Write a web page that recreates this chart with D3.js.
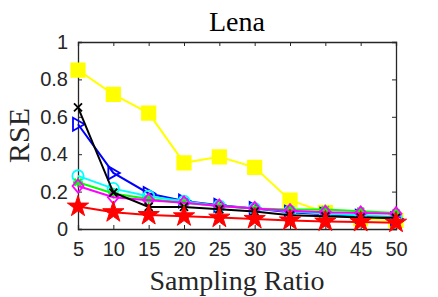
<!DOCTYPE html>
<html>
<head>
<meta charset="utf-8">
<script src="https://cdn.jsdelivr.net/npm/d3@7"></script>
<style>
  body { margin: 0; background: #fff; }
  svg { display: block; }
</style>
</head>
<body>
<div id="chart"></div>
<script>
var svgWidth = 438;
var svgHeight = 297;

var margin = { top: 42, right: 42, bottom: 68, left: 78 };
var width = svgWidth - margin.left - margin.right;
var height = svgHeight - margin.top - margin.bottom;

// data
var ratios = [5, 10, 15, 20, 25, 30, 35, 40, 45, 50];
var yTicks = [0, 0.2, 0.4, 0.6, 0.8, 1];
var yellowVals = [0.85, 0.72, 0.62, 0.354, 0.386, 0.33, 0.154, 0.088, 0.055, 0.046];
var blueVals = [0.56, 0.30, 0.19, 0.15, 0.127, 0.11, 0.09, 0.079, 0.068, 0.055];
var cyanVals = [0.284, 0.216, 0.175, 0.148, 0.123, 0.109, 0.095, 0.082, 0.073, 0.064];
var greenVals = [0.25, 0.19, 0.16, 0.14, 0.123, 0.109, 0.104, 0.104, 0.095, 0.086];
var magentaVals = [0.23, 0.17, 0.154, 0.14, 0.123, 0.11, 0.098, 0.089, 0.086, 0.082];
var blackVals = [0.65, 0.195, 0.118, 0.118, 0.105, 0.093, 0.073, 0.068, 0.062, 0.06];
var redVals = [0.12, 0.09, 0.075, 0.068, 0.061, 0.054, 0.046, 0.04, 0.038, 0.034];

var series = [
  { color: "#ffff00", marker: "square", values: yellowVals },
  { color: "#0000ff", marker: "triangle", values: blueVals },
  { color: "#00ffff", marker: "circle", values: cyanVals },
  { color: "#00ff00", marker: "asterisk", values: greenVals },
  { color: "#ff00ff", marker: "diamond", values: magentaVals },
  { color: "#000000", marker: "cross", values: blackVals },
  { color: "#ff0000", marker: "star", values: redVals }
];

var svg = d3.select("#chart")
  .append("svg")
  .attr("width", svgWidth)
  .attr("height", svgHeight);

var chartGroup = svg.append("g")
  .attr("transform", `translate(${margin.left}, ${margin.top})`);

var xScale = d3.scaleLinear().domain([5, 50]).range([0, width]);
var yScale = d3.scaleLinear().domain([0, 1]).range([height, 0]);

var tickFont = "'Liberation Sans', Arial, sans-serif";
var serif = "'Liberation Serif', 'Times New Roman', serif";

// axes (ticks inside, mirrored on top and right like matlab box)
var bottomAxis = d3.axisBottom(xScale).tickValues(ratios).tickSize(-4).tickPadding(13);
var topAxis = d3.axisTop(xScale).tickValues(ratios).tickSize(-4).tickFormat("");
var leftAxis = d3.axisLeft(yScale).tickValues(yTicks).tickSize(-4).tickPadding(10).tickFormat(d3.format("~g"));
var rightAxis = d3.axisRight(yScale).tickValues(yTicks).tickSize(-4).tickFormat("");

chartGroup.append("g").attr("transform", `translate(0, ${height})`).call(bottomAxis);
chartGroup.append("g").call(topAxis);
chartGroup.append("g").call(leftAxis);
chartGroup.append("g").attr("transform", `translate(${width}, 0)`).call(rightAxis);

chartGroup.selectAll(".domain")
  .attr("stroke", "#262626")
  .attr("stroke-width", 1.3);
chartGroup.selectAll(".tick line")
  .attr("stroke", "#262626");
chartGroup.selectAll(".tick text")
  .style("font-family", tickFont)
  .style("font-size", "20px")
  .attr("fill", "#262626");

// lines and markers
var line = d3.line()
  .x((d, i) => xScale(ratios[i]))
  .y(d => yScale(d));

function markerPath(type) {
  if (type === "square") return d3.symbol(d3.symbolSquare, 180)();
  if (type === "circle") return d3.symbol(d3.symbolCircle, 100)();
  if (type === "diamond") return "M0,-6.5L5.5,0L0,6.5L-5.5,0Z";
  if (type === "triangle") return "M-5,-6.5L6.5,0L-5,6.5Z";
  if (type === "cross") return "M-4,-4L4,4M-4,4L4,-4";
  if (type === "asterisk") return "M0,-5L0,5M-5,0L5,0M-3.5,-3.5L3.5,3.5M-3.5,3.5L3.5,-3.5";
  if (type === "star") return d3.symbol(d3.symbolStar, 140)();
}

series.forEach(function(s) {
  var g = chartGroup.append("g");
  g.append("path")
    .datum(s.values)
    .attr("d", line)
    .attr("fill", "none")
    .attr("stroke", s.color)
    .attr("stroke-width", 2);

  var filled = s.marker === "square" || s.marker === "star";
  g.selectAll("path.mk")
    .data(s.values)
    .enter()
    .append("path")
    .attr("class", "mk")
    .attr("transform", (d, i) => `translate(${xScale(ratios[i])}, ${yScale(d)})`)
    .attr("d", markerPath(s.marker))
    .attr("fill", filled ? s.color : "none")
    .attr("stroke", s.color)
    .attr("stroke-width", s.marker === "star" ? 1 : 1.8);
});

// labels
svg.append("text")
  .attr("x", margin.left + width / 2)
  .attr("y", 31)
  .attr("text-anchor", "middle")
  .style("font-family", serif)
  .style("font-size", "28px")
  .text("Lena");

svg.append("text")
  .attr("x", margin.left + width / 2)
  .attr("y", 290)
  .attr("text-anchor", "middle")
  .style("font-family", serif)
  .style("font-size", "28px")
  .attr("fill", "#262626")
  .text("Sampling Ratio");

svg.append("text")
  .attr("transform", `translate(29, ${margin.top + height / 2}) rotate(-90)`)
  .attr("text-anchor", "middle")
  .style("font-family", serif)
  .style("font-size", "30px")
  .attr("fill", "#262626")
  .text("RSE");
</script>
</body>
</html>
